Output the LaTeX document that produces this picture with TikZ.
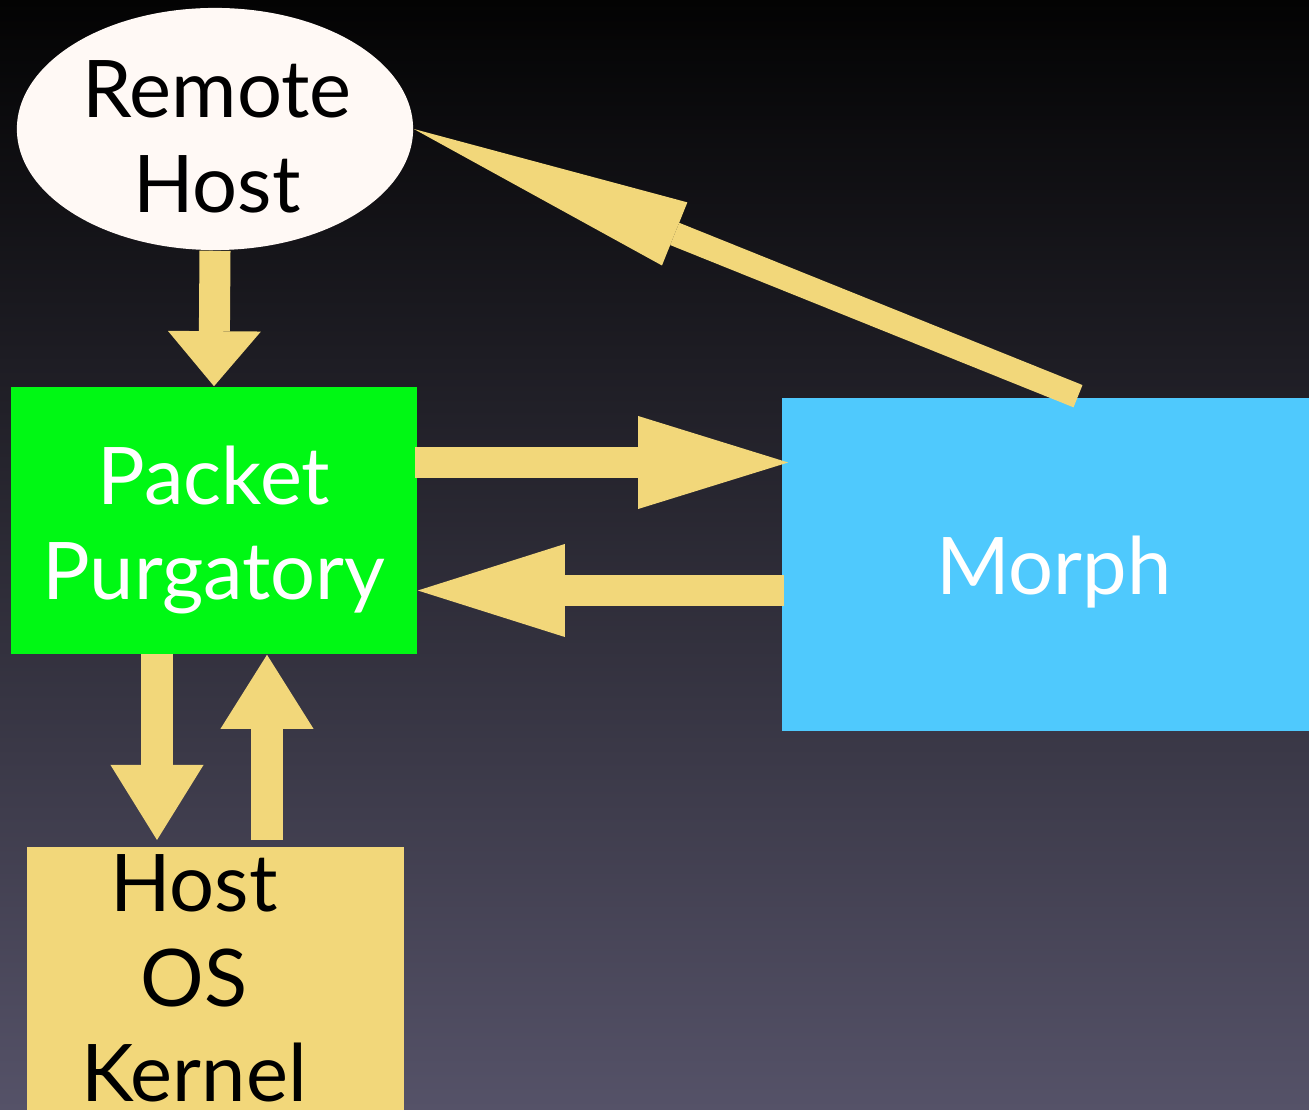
\documentclass[tikz,border=0pt]{standalone}
\usepackage{fontspec}
\setmainfont{Lato}
\usetikzlibrary{shapes.geometric,arrows.meta,calc,positioning}
\definecolor{bgtop}{HTML}{030303}
\definecolor{bgbot}{HTML}{555268}
\definecolor{sand}{HTML}{F2D77A}
\definecolor{lime}{HTML}{00F814}
\definecolor{sky}{HTML}{4FC9FD}
\definecolor{shell}{HTML}{FFF9F5}
\begin{document}
\begin{tikzpicture}[x=0.01cm,y=-0.01cm,line join=miter,
  txt/.style={font=\fontsize{22.6}{27}\selectfont,align=center,inner sep=0pt,anchor=north},
  box/.style={rectangle,inner sep=0pt,draw=none},
  blk/.style={sand,line width=0.31cm,-{Triangle[length=#1,width=0.93cm,line width=0pt]}},
  diag/.style={sand,line width=0.24cm,-{Triangle[length=2.81cm,width=0.68cm,line width=0pt]}}]
\useasboundingbox (0,0) rectangle (1309,1110);
\clip (0,0) rectangle (1309,1110);
\shade[top color=bgtop,bottom color=bgbot] (0,0) rectangle (1309,1110);
\node[ellipse,fill=shell,inner sep=0pt,minimum width=3.96cm,minimum height=2.42cm] (rh) at (215,129) {};
\node[txt,text=black] (rht) at (217,60) {Remote\\Host};
\node[box,fill=lime,minimum width=4.06cm,minimum height=2.67cm] (pp) at (214,520.5) {};
\node[txt,text=white] (ppt) at (214,445) {Packet\\Purgatory};
\node[box,fill=sky,minimum width=5.38cm,minimum height=3.33cm] (mo) at (1051,564.5) {};
\node[txt,text=white] (mot) at (1054,535) {Morph};
\node[box,fill=sand,minimum width=3.77cm,minimum height=3cm,anchor=north] (hk) at (215.5,846) {};
\node[txt,text=black] (hkt) at (194,854) {Host\\OS\\Kernel};
\draw[blk=0.55cm] (rh.south) -- (pp.north);
\draw[blk=1.5cm,shorten >=-0.07cm] ($(pp.east)+(-3,-58)$) coordinate (a1) -- (a1 -| mo.west);
\draw[blk=1.47cm] ($(mo.west)+(3,26)$) coordinate (a2) -- (a2 -| pp.east);
\draw[blk=0.75cm,shorten >=0.06cm] ($(pp.south)+(-57,-1)$) coordinate (a3) -- (a3 |- hk.north);
\draw[blk=0.74cm] ($(hk.north)+(51.5,-6)$) coordinate (a4) -- (a4 |- pp.south);
\draw[diag] ($(mo.north)+(27,-1)$) -- (rh.east);
\end{tikzpicture}
\end{document}
